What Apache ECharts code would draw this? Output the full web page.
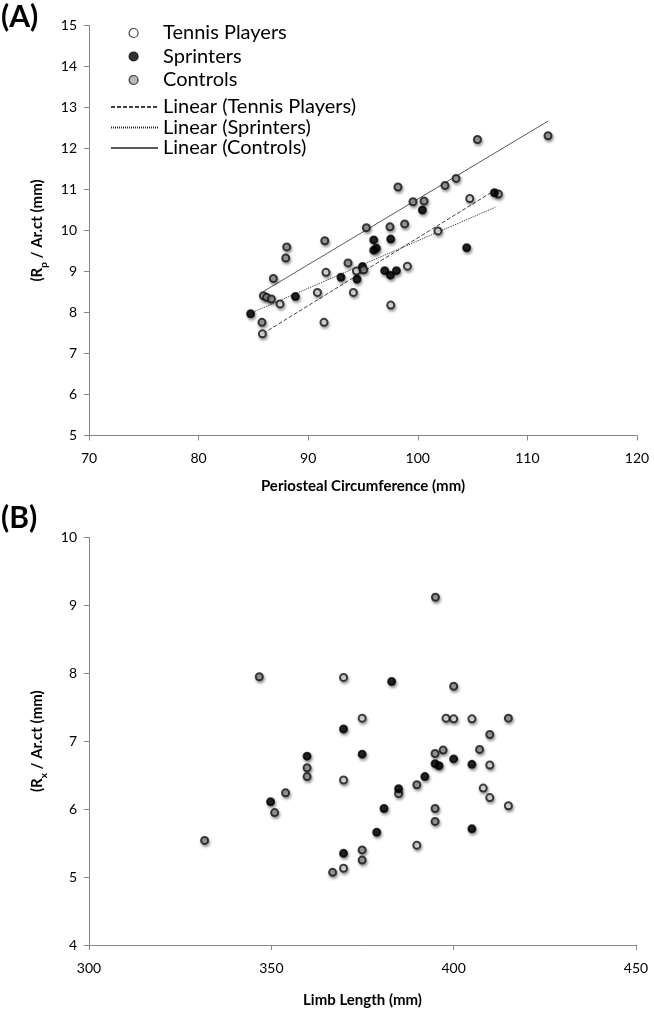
<!DOCTYPE html>
<html>
<head>
<meta charset="utf-8">
<script src="https://cdn.jsdelivr.net/npm/echarts@6/dist/echarts.min.js"></script>
<style>
html,body{margin:0;padding:0;background:#fff;}
#chart{width:654px;height:1009px;}
</style>
</head>
<body>
<div id="chart"></div>
<script>
// ---- Panel A data: [Periosteal Circumference (mm), Rp/Ar.ct (mm)] ----
var tennisA = [[107.35,10.89],[104.74,10.78],[101.84,9.99],[94.40,9.01],[99.05,9.13],[91.62,8.98],
  [90.84,8.49],[94.12,8.49],[87.43,8.21],[85.82,7.48],[91.44,7.76],[97.53,8.18]];
var sprintersA = [[106.99,10.92],[100.42,10.50],[95.98,9.77],[97.53,9.79],[95.98,9.52],[96.22,9.57],
  [104.46,9.58],[94.95,9.12],[96.98,9.02],[97.50,8.91],[98.05,9.02],[92.99,8.86],[94.45,8.81],
  [88.83,8.39],[84.75,7.97]];
var controlsA = [[111.88,12.31],[105.44,12.22],[103.49,11.27],[102.48,11.10],[98.19,11.06],[99.56,10.70],
  [100.57,10.72],[98.80,10.16],[97.46,10.09],[95.31,10.07],[91.51,9.75],[88.04,9.60],[87.95,9.33],
  [93.63,9.21],[95.06,9.04],[86.82,8.83],[85.91,8.41],[86.21,8.37],[86.64,8.33],[85.78,7.76]];
// linear trendlines (end points)
var tennisTrendA = [[85.9,7.49],[107.2,11.01]];
var sprintersTrendA = [[84.8,7.99],[107.1,10.57]];
var controlsTrendA = [[85.9,8.51],[111.9,12.67]];

// ---- Panel B data: [Limb Length (mm), Rx/Ar.ct (mm)] ----
var tennisB = [[369.8,7.94],[369.8,6.43],[369.8,5.13],[374.9,7.34],[397.9,7.34],[400.0,7.33],
  [405.0,7.33],[409.9,6.65],[384.9,6.23],[408.1,6.31],[409.9,6.17],[415.0,6.05],[389.9,5.47]];
var sprintersB = [[369.8,7.18],[359.8,6.78],[349.8,6.11],[369.8,5.35],[383.0,7.88],[374.9,6.81],
  [394.9,6.67],[396.0,6.64],[400.0,6.74],[405.0,6.66],[392.1,6.48],[384.9,6.30],[380.9,6.01],
  [405.0,5.71],[378.9,5.66]];
var controlsB = [[346.7,7.95],[359.8,6.61],[359.8,6.48],[353.9,6.24],[350.9,5.95],[331.7,5.54],
  [366.8,5.07],[400.0,7.81],[415.0,7.34],[409.9,7.10],[397.1,6.87],[394.9,6.82],[407.1,6.88],
  [389.9,6.36],[394.9,6.01],[394.9,5.82],[374.9,5.40],[374.9,5.25],[395.0,9.12]];

// ---- axes / labels ----
var xTitleA = 'Periosteal Circumference (mm)';
var xTitleB = 'Limb Length (mm)';
var legendPoints = ['Tennis Players','Sprinters','Controls'];
var legendLines = ['Linear (Tennis Players)','Linear (Sprinters)','Linear (Controls)'];

var FONT = 'Lato';
var AX = '#868686';

function axisCommon(){
  return {
    axisLine:{show:true,lineStyle:{color:AX,width:1}},
    axisTick:{show:true,inside:false,length:5,lineStyle:{color:AX}},
    splitLine:{show:false},
    axisLabel:{color:'#000',fontFamily:FONT,fontSize:14,margin:12},
    nameTextStyle:{color:'#000',fontFamily:FONT,fontSize:15,fontWeight:'bold'}
  };
}
function xAxis(grid,min,max,interval,name,gap){
  var a = axisCommon();
  a.type='value'; a.gridIndex=grid; a.min=min; a.max=max; a.interval=interval;
  a.name=name; a.nameLocation='middle'; a.nameGap=gap;
  a.axisLabel.margin=16;
  return a;
}
function yAxis(grid,min,max,interval,name){
  var a = axisCommon();
  a.type='value'; a.gridIndex=grid; a.min=min; a.max=max; a.interval=interval;
  a.name=name; a.nameLocation='middle'; a.nameGap=44;
  a.nameTextStyle.rich={
    a:{fontFamily:FONT,fontSize:15,fontWeight:'bold',color:'#000'},
    s:{fontFamily:FONT,fontSize:10,fontWeight:'bold',color:'#000',verticalAlign:'bottom',padding:[0,0,-4,0]}
  };
  return a;
}
var shadow = {shadowBlur:3,shadowOffsetX:1,shadowOffsetY:2,shadowColor:'rgba(0,0,0,0.45)'};
function pts(name,data,grid,fill,border){
  return {
    name:name,type:'scatter',xAxisIndex:grid,yAxisIndex:grid,data:data,
    symbol:'circle',symbolSize:7,z:5,
    itemStyle:Object.assign({color:fill,borderColor:border,borderWidth:2},shadow)
  };
}
function trend(name,data,dash,color){
  return {
    name:name,type:'line',xAxisIndex:0,yAxisIndex:0,data:data,
    symbol:'none',showSymbol:false,z:3,silent:true,
    lineStyle:{color:color,width:1,type:dash},
    itemStyle:{color:color}
  };
}

var chart = echarts.init(document.getElementById('chart'),null,{renderer:'canvas'});
chart.setOption({
  animation:false,
  backgroundColor:'#fff',
  grid:[
    {left:89,top:25.5,width:548,height:410},
    {left:89,top:537.5,width:547,height:409}
  ],
  xAxis:[
    xAxis(0,70,120,10,xTitleA,43),
    xAxis(1,300,450,50,xTitleB,48)
  ],
  yAxis:[
    yAxis(0,5,15,1,'{a|(R}{s|p}{a| / Ar.ct (mm)}'),
    yAxis(1,4,10,1,'{a|(R}{s|x}{a| / Ar.ct (mm)}')
  ],
  legend:[
    {
      data:legendPoints,orient:'vertical',left:128.5,top:23,padding:0,itemWidth:9,itemHeight:9,itemGap:3.5,
      textStyle:{fontFamily:FONT,fontSize:20,color:'#000',lineHeight:20,padding:[0,0,0,20]},
      itemStyle:{borderWidth:1.2,shadowBlur:0,shadowOffsetX:0,shadowOffsetY:0},
      selectedMode:false
    },
    {
      data:legendLines,orient:'vertical',left:110,top:97,padding:0,itemWidth:47,itemHeight:6,itemGap:0.5,
      textStyle:{fontFamily:FONT,fontSize:20,color:'#000',lineHeight:20},
      itemStyle:{opacity:0},
      selectedMode:false
    }
  ],
  graphic:[
    {type:'text',left:1,top:2,style:{text:'(A)',fontFamily:FONT,fontWeight:'bold',fontSize:30,fill:'#000'}},
    {type:'text',left:1,top:503,style:{text:'(B)',fontFamily:FONT,fontWeight:'bold',fontSize:30,fill:'#000'}}
  ],
  series:[
    trend(legendLines[0],tennisTrendA,[4,2],'#404040'),
    trend(legendLines[1],sprintersTrendA,[1,1],'#2a2a2a'),
    trend(legendLines[2],controlsTrendA,'solid','#595959'),
    pts(legendPoints[0],tennisA,0,'#ffffff','#111'),
    pts(legendPoints[1],sprintersA,0,'#000000','#000'),
    pts(legendPoints[2],controlsA,0,'#a6a6a6','#111'),
    pts(legendPoints[0],tennisB,1,'#ffffff','#111'),
    pts(legendPoints[1],sprintersB,1,'#000000','#000'),
    pts(legendPoints[2],controlsB,1,'#a6a6a6','#111')
  ]
});
</script>
</body>
</html>
